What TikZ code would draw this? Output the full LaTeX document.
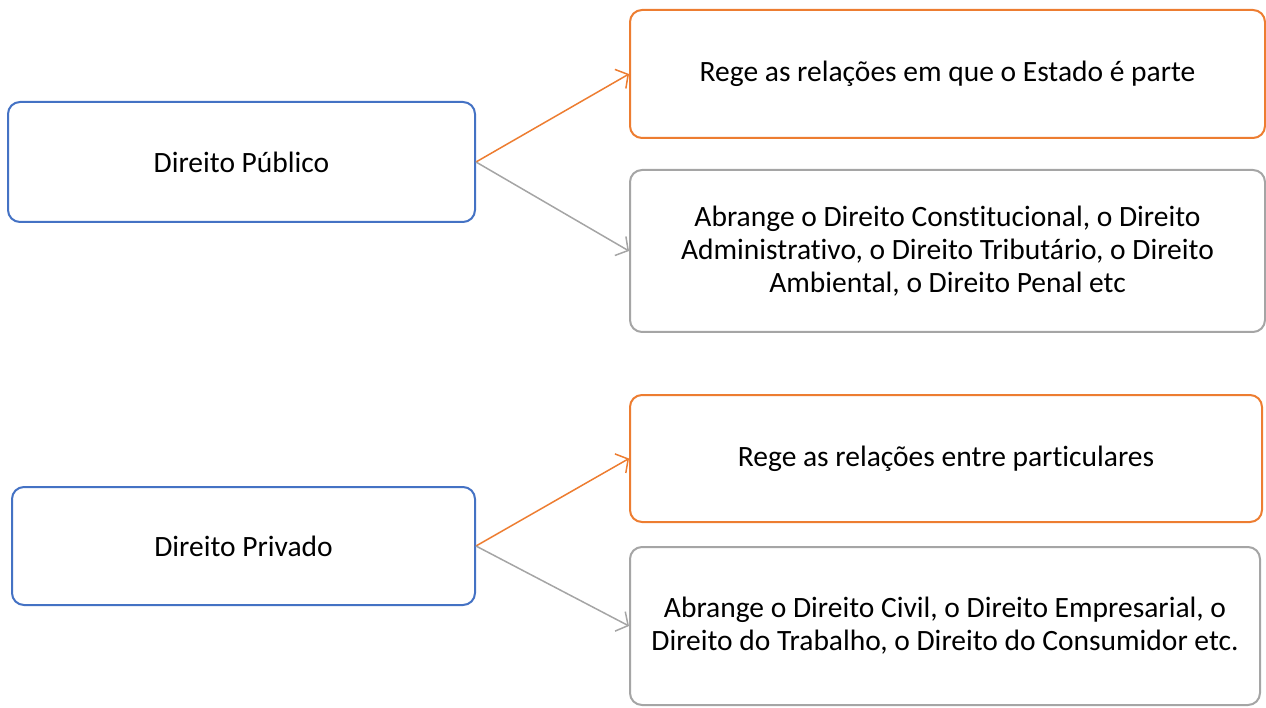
\documentclass[tikz,border=0pt]{standalone}
\usepackage{fontspec}
\setmainfont{Carlito}[Ligatures=CommonOff]
\usepackage{tikz}
\usetikzlibrary{arrows.meta}
\definecolor{azul}{HTML}{4472C4}
\definecolor{laranja}{HTML}{ED7D31}
\definecolor{cinza}{HTML}{A5A5A5}
\tikzset{
  caixa/.style={rectangle,rounded corners=12pt,line width=2pt,inner sep=0pt,
    align=center,font=\fontsize{29.5}{33}\selectfont,fill=white},
  ramo/.style={-{Straight Barb[length=9pt,width=22pt,line width=1.5pt]},line width=1.5pt}
}
\newcommand{\ramonode}{\node[caixa,draw=azul]}
\newcommand{\regenode}{\node[caixa,draw=laranja]}
\newcommand{\abrangenode}{\node[caixa,draw=cinza]}

\begin{document}
\begin{tikzpicture}[x=1pt,y=-1pt]
      \useasboundingbox (0,0) rectangle (1266,708);
      \ramonode[minimum width=467pt,minimum height=120pt] (pub) at (241.5,162) {Direito Público}; %
      \regenode[minimum width=635pt,minimum height=128pt] (pubrege) at (947.5,74) {Rege as relações em que o Estado é parte};
      \abrangenode[minimum width=635pt,minimum height=162pt] (pubabr) at (947.5,251) {Abrange o Direito Constitucional, o Direito\\Administrativo, o Direito Tributário, o Direito\\Ambiental, o Direito Penal etc};
      \ramonode[minimum width=463pt,minimum height=118pt] (priv) at (243.5,546) {Direito Privado}; %
      \regenode[minimum width=632pt,minimum height=127pt] (privrege) at (946,458.5) {Rege as relações entre particulares};
      \abrangenode[minimum width=630pt,minimum height=158pt] (privabr) at (945,626) {Abrange o Direito Civil, o Direito Empresarial, o\\Direito do Trabalho, o Direito do Consumidor etc.};
      \draw[ramo,laranja] (pub.east) -- (pubrege.west);
      \draw[ramo,cinza] (pub.east) -- (pubabr.west);
      \draw[ramo,laranja] (priv.east) -- (privrege.west);
      \draw[ramo,cinza] (priv.east) -- (privabr.west);
\end{tikzpicture}
\end{document}
